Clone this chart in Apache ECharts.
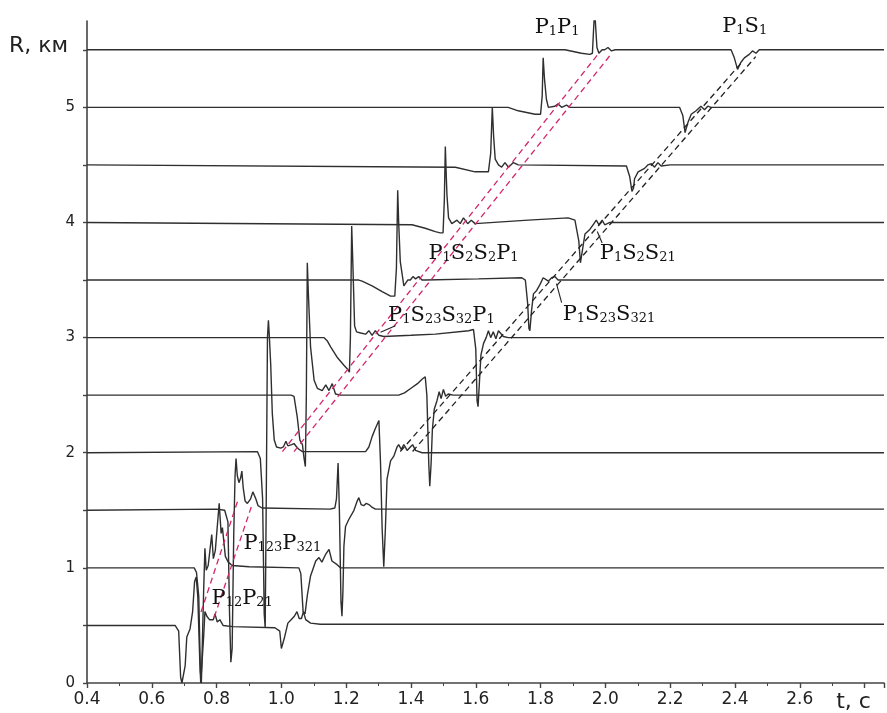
<!DOCTYPE html>
<html><head><meta charset="utf-8">
<script src="https://cdn.jsdelivr.net/npm/echarts@6/dist/echarts.min.js"></script>
<style>html,body{margin:0;padding:0;background:#fff}#c{width:887px;height:713px}</style>
</head><body><div id="c"></div>
<script>
// Seismic traces: [t (s), R (km)]
const trace05 = [[0.4,0.5],[0.672,0.5],[0.683,0.45],[0.689,0.05],[0.693,0.0],[0.699,0.0],[0.703,0.15],[0.708,0.40],[0.718,0.47],[0.726,0.62],[0.732,0.88],[0.737,0.92],[0.742,0.75],[0.748,0.2],[0.751,0.0],[0.757,0.0],[0.760,0.40],[0.764,0.62],[0.770,0.58],[0.778,0.55],[0.790,0.55],[0.795,0.60],[0.802,0.53],[0.810,0.55],[0.820,0.50],[0.850,0.49],[0.980,0.48],[0.995,0.45],[1.000,0.30],[1.004,0.29],[1.010,0.40],[1.020,0.52],[1.030,0.55],[1.040,0.58],[1.048,0.62],[1.055,0.56],[1.062,0.56],[1.068,0.62],[1.075,0.55],[1.090,0.52],[1.120,0.51],[2.86,0.51]];
const trace10 = [[0.4,1.0],[0.731,1.0],[0.738,0.96],[0.745,0.75],[0.750,0.1],[0.753,0.0],[0.757,0.0],[0.760,0.8],[0.764,1.17],[0.768,0.98],[0.774,1.02],[0.785,1.29],[0.790,1.08],[0.796,1.15],[0.808,1.56],[0.814,1.30],[0.818,1.35],[0.827,1.10],[0.836,1.05],[0.848,1.02],[0.900,1.01],[1.054,1.0],[1.060,0.95],[1.067,0.62],[1.073,0.60],[1.080,0.76],[1.090,0.93],[1.106,1.06],[1.116,1.09],[1.125,1.05],[1.137,1.12],[1.147,1.16],[1.156,1.06],[1.171,1.03],[1.183,1.0],[2.86,1.0]];
const trace15 = [[0.4,1.5],[0.80,1.51],[0.825,1.50],[0.835,1.40],[0.840,0.6],[0.844,0.18],[0.848,0.3],[0.853,1.3],[0.857,1.80],[0.860,1.95],[0.864,1.80],[0.869,1.74],[0.874,1.78],[0.878,1.84],[0.882,1.70],[0.888,1.58],[0.895,1.56],[0.905,1.60],[0.912,1.66],[0.916,1.67],[0.921,1.60],[0.928,1.54],[0.940,1.52],[1.150,1.51],[1.165,1.52],[1.170,1.6],[1.175,1.91],[1.179,1.5],[1.184,0.7],[1.187,0.58],[1.190,0.8],[1.193,1.19],[1.198,1.36],[1.208,1.42],[1.224,1.50],[1.234,1.58],[1.239,1.61],[1.246,1.55],[1.254,1.54],[1.262,1.56],[1.270,1.55],[1.278,1.53],[1.290,1.51],[2.86,1.51]];
const trace20 = [[0.4,2.0],[0.926,2.01],[0.935,1.95],[0.942,1.6],[0.947,0.6],[0.950,0.48],[0.953,1.5],[0.957,3.0],[0.960,3.15],[0.963,3.0],[0.967,2.77],[0.972,2.34],[0.978,2.11],[0.985,2.05],[0.998,2.04],[1.006,2.05],[1.014,2.10],[1.020,2.06],[1.024,2.05],[1.032,2.07],[1.039,2.08],[1.047,2.05],[1.054,2.03],[1.065,2.01],[1.260,2.01],[1.270,2.05],[1.280,2.14],[1.290,2.21],[1.301,2.28],[1.306,1.91],[1.311,1.34],[1.316,1.01],[1.321,1.34],[1.326,1.77],[1.337,1.93],[1.347,1.97],[1.357,2.05],[1.362,2.07],[1.370,2.03],[1.378,2.07],[1.388,2.02],[1.398,2.05],[1.405,2.07],[1.414,2.02],[1.434,2.0],[2.86,2.0]];
const trace25 = [[0.4,2.5],[1.030,2.5],[1.039,2.49],[1.049,2.31],[1.057,2.11],[1.065,2.07],[1.070,1.95],[1.074,1.88],[1.077,2.5],[1.080,3.65],[1.083,3.4],[1.090,2.92],[1.101,2.63],[1.111,2.56],[1.126,2.54],[1.137,2.59],[1.147,2.54],[1.157,2.60],[1.167,2.51],[1.183,2.50],[1.362,2.5],[1.380,2.52],[1.400,2.56],[1.420,2.60],[1.435,2.64],[1.444,2.66],[1.449,2.5],[1.455,1.9],[1.458,1.71],[1.462,1.9],[1.466,2.2],[1.472,2.38],[1.480,2.45],[1.487,2.53],[1.493,2.47],[1.500,2.55],[1.507,2.49],[1.515,2.51],[1.530,2.5],[2.86,2.5]];
const trace30 = [[0.4,3.0],[1.131,3.0],[1.142,2.97],[1.152,2.92],[1.172,2.83],[1.193,2.76],[1.203,2.73],[1.210,2.70],[1.213,3.0],[1.217,3.97],[1.221,3.6],[1.226,3.1],[1.232,3.05],[1.245,3.04],[1.260,3.03],[1.270,3.06],[1.280,3.02],[1.290,3.06],[1.301,3.02],[1.316,3.01],[1.400,3.02],[1.475,3.03],[1.578,3.06],[1.593,3.07],[1.600,2.9],[1.604,2.45],[1.607,2.40],[1.611,2.6],[1.616,2.85],[1.624,2.95],[1.632,3.0],[1.639,3.06],[1.646,3.0],[1.654,3.05],[1.662,2.99],[1.670,3.06],[1.685,3.01],[1.700,3.0],[2.86,3.0]];
const trace35 = [[0.4,3.5],[1.239,3.5],[1.249,3.49],[1.280,3.45],[1.311,3.40],[1.337,3.36],[1.350,3.36],[1.355,3.6],[1.359,4.28],[1.362,4.0],[1.367,3.66],[1.378,3.45],[1.390,3.5],[1.398,3.50],[1.406,3.53],[1.414,3.51],[1.424,3.53],[1.434,3.50],[1.444,3.50],[1.608,3.51],[1.742,3.52],[1.753,3.50],[1.760,3.3],[1.764,3.08],[1.767,3.06],[1.772,3.23],[1.778,3.38],[1.788,3.41],[1.798,3.46],[1.808,3.52],[1.814,3.53],[1.824,3.49],[1.834,3.52],[1.844,3.53],[1.854,3.50],[1.875,3.5],[2.86,3.5]];
const trace40 = [[0.4,4.0],[1.403,3.98],[1.444,3.95],[1.475,3.92],[1.490,3.91],[1.499,3.91],[1.503,4.2],[1.506,4.66],[1.509,4.4],[1.511,4.24],[1.516,4.04],[1.526,3.99],[1.542,4.02],[1.552,3.99],[1.562,4.04],[1.575,3.99],[1.586,4.02],[1.598,3.99],[1.762,4.02],[1.885,4.04],[1.906,4.02],[1.918,3.84],[1.923,3.65],[1.932,3.81],[1.937,3.90],[1.952,3.94],[1.962,3.98],[1.972,4.02],[1.980,3.98],[1.990,4.02],[1.998,3.98],[2.014,4.0],[2.86,4.0]];
const trace45 = [[0.4,4.5],[1.537,4.48],[1.598,4.44],[1.639,4.44],[1.646,4.6],[1.651,5.0],[1.655,4.75],[1.660,4.55],[1.670,4.50],[1.680,4.48],[1.690,4.52],[1.701,4.48],[1.716,4.52],[1.731,4.50],[2.065,4.49],[2.075,4.40],[2.082,4.27],[2.087,4.30],[2.090,4.38],[2.101,4.44],[2.121,4.47],[2.131,4.50],[2.142,4.51],[2.152,4.48],[2.162,4.52],[2.172,4.49],[2.200,4.5],[2.86,4.5]];
const trace50 = [[0.4,5.0],[1.700,5.0],[1.731,4.97],[1.783,4.94],[1.800,4.94],[1.805,5.1],[1.808,5.43],[1.812,5.25],[1.818,5.07],[1.824,5.0],[1.844,5.01],[1.854,5.03],[1.865,5.0],[1.880,5.02],[1.891,5.0],[2.229,5.0],[2.239,4.93],[2.246,4.78],[2.255,4.87],[2.265,4.94],[2.280,4.97],[2.295,5.01],[2.306,4.98],[2.316,5.01],[2.326,5.0],[2.86,5.0]];
const trace55 = [[0.4,5.5],[1.875,5.5],[1.926,5.47],[1.952,5.46],[1.960,5.47],[1.964,5.7],[1.967,5.85],[1.970,5.7],[1.974,5.52],[1.980,5.47],[1.990,5.5],[1.998,5.5],[2.008,5.52],[2.019,5.49],[2.030,5.5],[2.388,5.5],[2.398,5.43],[2.408,5.33],[2.418,5.39],[2.429,5.43],[2.444,5.46],[2.454,5.49],[2.465,5.47],[2.475,5.5],[2.86,5.5]];

// Travel-time guide lines (dashed)
const crimsonLines = [
  [[1.003,2.01],[1.977,5.46]],
  [[1.039,2.01],[2.017,5.46]],
  [[0.752,0.617],[0.865,1.58]],
  [[0.793,0.574],[0.908,1.537]]
];
const blackLines = [
  [[1.367,2.011],[2.424,5.40]],
  [[1.405,2.011],[2.464,5.44]]
];
const leaderLines = [
  [[1.975,3.922],[1.990,3.821]],
  [[1.849,3.468],[1.865,3.304]],
  [[1.306,3.046],[1.352,3.103]]
];
// Wave labels: [t, R, text] ("_" marks a subscript)
const annotations = [
  [1.851,5.69,'P_1P_1'],
  [2.430,5.70,'P_1S_1'],
  [1.593,3.73,'P_1S_2S_2P_1'],
  [2.100,3.73,'P_1S_2S_21'],
  [1.494,3.19,'P_1S_23S_32P_1'],
  [2.011,3.20,'P_1S_23S_321'],
  [1.003,1.21,'P_123P_321'],
  [0.879,0.73,'P_12P_21']
];
const xLabelValues = [0.4,0.6,0.8,1.0,1.2,1.4,1.6,1.8,2.0,2.2,2.4,2.6];
const xUnitLabel = 't, c';
const yLabelValues = [0,1,2,3,4,5];
const yTickValues = [0,0.5,1,1.5,2,2.5,3,3.5,4,4.5,5,5.5];
const yUnitLabel = 'R, км';

const traces = [trace05,trace10,trace15,trace20,trace25,trace30,trace35,trace40,trace45,trace50,trace55];

function toRich(s){
  return s.replace(/([A-Za-z]+)/g,'{p|$1}').replace(/_(\d+)/g,'{s|$1}');
}

const chart = echarts.init(document.getElementById('c'), null, {renderer:'canvas'});
const series = [];
traces.forEach(d => series.push({
  type:'line', data:d, symbol:'none', showSymbol:false, silent:true, z:3,
  lineStyle:{color:'#2f2f2f', width:1.4}
}));
crimsonLines.forEach(d => series.push({
  type:'line', data:d, symbol:'none', silent:true, z:4,
  lineStyle:{color:'#d4266c', width:1.3, type:[6,4]}
}));
blackLines.forEach(d => series.push({
  type:'line', data:d, symbol:'none', silent:true, z:4,
  lineStyle:{color:'#222', width:1.3, type:[6,4]}
}));
leaderLines.forEach(d => series.push({
  type:'line', data:d, symbol:'none', silent:true, z:4,
  lineStyle:{color:'#222', width:1.1}
}));
const labelColor = '#111';
series.push({
  type:'scatter', data:annotations, symbolSize:2, silent:true, z:6,
  itemStyle:{color:'rgba(0,0,0,0)'},
  encode:{x:0,y:1},
  label:{
    show:true, position:'inside', color:labelColor, opacity:1,
    textBorderWidth:0, textBorderColor:'transparent',
    formatter: p => toRich(p.data[2]),
    rich:{
      p:{fontFamily:'DejaVu Serif', fontSize:21, lineHeight:21, color:labelColor, textBorderWidth:0, verticalAlign:'middle'},
      s:{fontFamily:'DejaVu Serif', fontSize:13, lineHeight:13, color:labelColor, textBorderWidth:0, verticalAlign:'bottom'}
    }
  },
  labelLayout:{hideOverlap:false}
});

chart.setOption({
  animation:false,
  backgroundColor:'#fff',
  grid:{left:87, right:0, top:21, bottom:25, containLabel:false},
  xAxis:{
    type:'value', min:0.4, max:2.86, interval:0.2,
    splitLine:{show:false},
    axisLine:{lineStyle:{color:'#444', width:1.6}},
    axisTick:{show:true, length:5, lineStyle:{color:'#444', width:1.4}},
    minorTick:{show:true, splitNumber:2, length:3, lineStyle:{color:'#444'}},
    axisLabel:{
      margin:8, color:'#222', fontFamily:'DejaVu Sans', fontSize:17,
      formatter: v => {
        if (Math.abs(v-2.8) < 1e-6) return '{t|' + xUnitLabel + '}';
        for (const x of xLabelValues) if (Math.abs(v-x) < 1e-6) return x.toFixed(1);
        return '';
      },
      rich:{t:{fontFamily:'DejaVu Sans', fontSize:22, color:'#222', padding:[0,22,0,0]}}
    }
  },
  yAxis:{
    type:'value', min:0, max:5.75, interval:0.5,
    splitLine:{show:false},
    axisLine:{show:true, lineStyle:{color:'#444', width:1.6}},
    axisTick:{show:true, length:4, customValues:yTickValues, lineStyle:{color:'#444', width:1.4}},
    axisLabel:{
      margin:12, color:'#222', fontFamily:'DejaVu Sans', fontSize:15,
      customValues:yLabelValues,
      formatter: v => yLabelValues.some(y => Math.abs(y-v) < 1e-6) ? String(Math.round(v)) : ''
    }
  },
  graphic:[{
    type:'text', left:9, top:35, silent:true,
    style:{text:yUnitLabel, fontFamily:'DejaVu Sans', fontSize:22, fill:'#222'}
  }],
  series: series
});
</script>
</body></html>
